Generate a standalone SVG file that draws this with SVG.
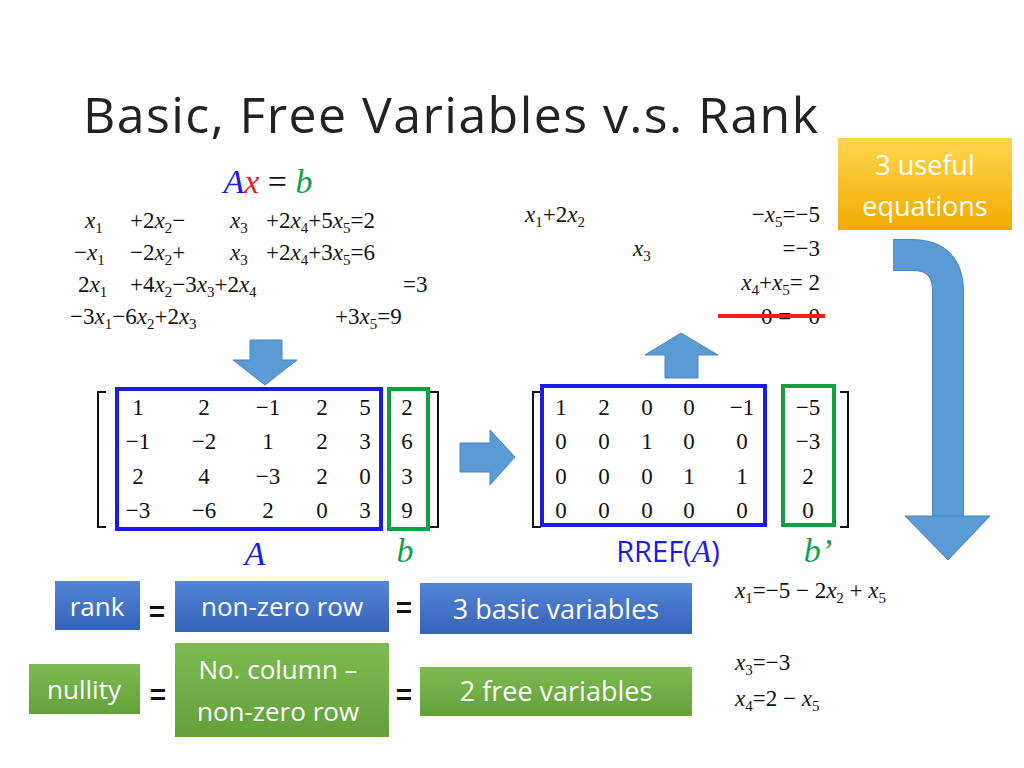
<svg xmlns="http://www.w3.org/2000/svg" width="1024" height="768" viewBox="0 0 1024 768">
<defs>
<style>
.m{font-family:"Liberation Serif",serif;font-size:23px;fill:#111}
.v{font-style:italic}
.s{font-size:15px}
.mx{font-family:"Liberation Serif",serif;font-size:23px;fill:#111;text-anchor:middle}
.lbl{font-family:"Open Sans","Liberation Sans",sans-serif;fill:#fff;text-anchor:middle}
.eq{font-family:"Liberation Sans",sans-serif;font-size:28px;font-weight:bold;fill:#111;text-anchor:middle}
.arrow{fill:#5b9bd5;stroke:#4a86bf;stroke-width:1}
</style>
<linearGradient id="gold" x1="0" y1="0" x2="0" y2="1"><stop offset="0" stop-color="#ffd64f"/><stop offset="1" stop-color="#f2aa00"/></linearGradient>
<linearGradient id="blue" x1="0" y1="0" x2="0" y2="1"><stop offset="0" stop-color="#5585d6"/><stop offset="1" stop-color="#3463b8"/></linearGradient>
<linearGradient id="green" x1="0" y1="0" x2="0" y2="1"><stop offset="0" stop-color="#7dbb52"/><stop offset="1" stop-color="#62a03a"/></linearGradient>
</defs>
<rect width="1024" height="768" fill="#fff"/>
<text x="83" y="133" font-family="Open Sans,Liberation Sans,sans-serif" font-size="50" fill="#222" textLength="735">Basic, Free Variables v.s. Rank</text>

<g id="ax-eq" font-family="Liberation Serif,serif" font-size="34" font-style="italic" text-anchor="middle">
<text x="268" y="193"><tspan fill="#1a1aee">A</tspan><tspan fill="#ee1c1c">x</tspan><tspan fill="#111" font-style="normal"> = </tspan><tspan fill="#10a050">b</tspan></text>
</g>

<g id="system" class="m">
<text x="85" y="228"><tspan class="v">x</tspan><tspan class="s" dy="5">1</tspan></text>
<text x="130" y="228">+2<tspan class="v">x</tspan><tspan class="s" dy="5">2</tspan><tspan dy="-5">−</tspan></text>
<text x="230" y="228"><tspan class="v">x</tspan><tspan class="s" dy="5">3</tspan></text>
<text x="266" y="228">+2<tspan class="v">x</tspan><tspan class="s" dy="5">4</tspan><tspan dy="-5">+5</tspan><tspan class="v">x</tspan><tspan class="s" dy="5">5</tspan><tspan dy="-5">=2</tspan></text>

<text x="74" y="260">−<tspan class="v">x</tspan><tspan class="s" dy="5">1</tspan></text>
<text x="130" y="260">−2<tspan class="v">x</tspan><tspan class="s" dy="5">2</tspan><tspan dy="-5">+</tspan></text>
<text x="230" y="260"><tspan class="v">x</tspan><tspan class="s" dy="5">3</tspan></text>
<text x="266" y="260">+2<tspan class="v">x</tspan><tspan class="s" dy="5">4</tspan><tspan dy="-5">+3</tspan><tspan class="v">x</tspan><tspan class="s" dy="5">5</tspan><tspan dy="-5">=6</tspan></text>

<text x="78" y="292">2<tspan class="v">x</tspan><tspan class="s" dy="5">1</tspan></text>
<text x="130" y="292">+4<tspan class="v">x</tspan><tspan class="s" dy="5">2</tspan><tspan dy="-5">−3</tspan><tspan class="v">x</tspan><tspan class="s" dy="5">3</tspan><tspan dy="-5">+2</tspan><tspan class="v">x</tspan><tspan class="s" dy="5">4</tspan></text>
<text x="403" y="292">=3</text>

<text x="70" y="324">−3<tspan class="v">x</tspan><tspan class="s" dy="5">1</tspan><tspan dy="-5">−6</tspan><tspan class="v">x</tspan><tspan class="s" dy="5">2</tspan><tspan dy="-5">+2</tspan><tspan class="v">x</tspan><tspan class="s" dy="5">3</tspan></text>
<text x="335" y="324">+3<tspan class="v">x</tspan><tspan class="s" dy="5">5</tspan><tspan dy="-5">=9</tspan></text>
</g>

<g id="reduced-system" class="m">
<text x="525" y="222"><tspan class="v">x</tspan><tspan class="s" dy="5">1</tspan><tspan dy="-5">+2</tspan><tspan class="v">x</tspan><tspan class="s" dy="5">2</tspan></text>
<text x="820" y="222" text-anchor="end">−<tspan class="v">x</tspan><tspan class="s" dy="5">5</tspan><tspan dy="-5">=−5</tspan></text>
<text x="633" y="256"><tspan class="v">x</tspan><tspan class="s" dy="5">3</tspan></text>
<text x="820" y="256" text-anchor="end">=−3</text>
<text x="820" y="290" text-anchor="end"><tspan class="v">x</tspan><tspan class="s" dy="5">4</tspan><tspan dy="-5">+</tspan><tspan class="v">x</tspan><tspan class="s" dy="5">5</tspan><tspan dy="-5">=  2</tspan></text>
<text x="820" y="324" text-anchor="end" xml:space="preserve">0 =   0</text>
<line x1="718" y1="316" x2="825" y2="316" stroke="#ff1a1a" stroke-width="4"/>
</g>

<g id="solution" class="m">
<text x="735" y="598"><tspan class="v">x</tspan><tspan class="s" dy="5">1</tspan><tspan dy="-5">=−5 − 2</tspan><tspan class="v">x</tspan><tspan class="s" dy="5">2</tspan><tspan dy="-5"> + </tspan><tspan class="v">x</tspan><tspan class="s" dy="5">5</tspan></text>
<text x="735" y="670"><tspan class="v">x</tspan><tspan class="s" dy="5">3</tspan><tspan dy="-5">=−3</tspan></text>
<text x="735" y="706"><tspan class="v">x</tspan><tspan class="s" dy="5">4</tspan><tspan dy="-5">=2 − </tspan><tspan class="v">x</tspan><tspan class="s" dy="5">5</tspan></text>
</g>

<g id="matrix-A" class="mx">
<path d="M106 392 H98 V527 H106 M430 392 H438 V527 H430" fill="none" stroke="#111" stroke-width="2"/>
<g>
<text x="138" y="415">1</text><text x="204" y="415">2</text><text x="268" y="415">−1</text><text x="322" y="415">2</text><text x="365" y="415">5</text><text x="407" y="415">2</text>
<text x="138" y="449">−1</text><text x="204" y="449">−2</text><text x="268" y="449">1</text><text x="322" y="449">2</text><text x="365" y="449">3</text><text x="407" y="449">6</text>
<text x="138" y="484">2</text><text x="204" y="484">4</text><text x="268" y="484">−3</text><text x="322" y="484">2</text><text x="365" y="484">0</text><text x="407" y="484">3</text>
<text x="138" y="518">−3</text><text x="204" y="518">−6</text><text x="268" y="518">2</text><text x="322" y="518">0</text><text x="365" y="518">3</text><text x="407" y="518">9</text>
</g>
<rect x="117" y="389" width="264" height="140" fill="none" stroke="#1a1aee" stroke-width="4"/>
<rect x="389" y="389" width="39" height="140" fill="none" stroke="#10a040" stroke-width="4"/>
<text x="255" y="565" font-size="34" font-style="italic" fill="#1a1aee">A</text>
<text x="405" y="562" font-size="34" font-style="italic" fill="#10a050">b</text>
</g>

<g id="matrix-R" class="mx">
<path d="M541 392 H533 V527 H541 M840 392 H848 V527 H840" fill="none" stroke="#111" stroke-width="2"/>
<text x="561" y="415">1</text><text x="604" y="415">2</text><text x="647" y="415">0</text><text x="689" y="415">0</text><text x="742" y="415">−1</text><text x="808" y="415">−5</text>
<text x="561" y="449">0</text><text x="604" y="449">0</text><text x="647" y="449">1</text><text x="689" y="449">0</text><text x="742" y="449">0</text><text x="808" y="449">−3</text>
<text x="561" y="484">0</text><text x="604" y="484">0</text><text x="647" y="484">0</text><text x="689" y="484">1</text><text x="742" y="484">1</text><text x="808" y="484">2</text>
<text x="561" y="518">0</text><text x="604" y="518">0</text><text x="647" y="518">0</text><text x="689" y="518">0</text><text x="742" y="518">0</text><text x="808" y="518">0</text>
<rect x="542" y="386" width="223" height="139" fill="none" stroke="#1a1aee" stroke-width="4"/>
<rect x="783" y="386" width="51" height="139" fill="none" stroke="#10a040" stroke-width="4"/>
<text x="668" y="562" font-family="Open Sans,Liberation Sans,sans-serif" font-size="29" fill="#1a1aee">RREF(<tspan font-family="Liberation Serif,serif" font-style="italic" font-size="32">A</tspan>)</text>
<text x="818" y="562" font-size="34" font-style="italic" fill="#10a050">b’</text>
</g>

<g id="connectors">
<polygon class="arrow" points="250,340 282,340 282,360 297,360 265,385 233,360 250,360"/>
<polygon class="arrow" points="460,443 490,443 490,430 515,457 490,485 490,472 460,472"/>
<polygon class="arrow" points="665,378 698,378 698,355 718,355 681,333 645,355 665,355"/>
<path d="M893 255 H912 Q948 255 948 292 V517" fill="none" stroke="#4a86bf" stroke-width="32"/>
<path d="M893 255 H912 Q948 255 948 292 V518" fill="none" stroke="#5b9bd5" stroke-width="30"/>
<polygon class="arrow" points="905,516 990,516 948,560"/>
</g>

<g id="useful">
<rect x="838" y="138" width="174" height="92" fill="url(#gold)"/>
<text class="lbl" x="925" y="175" font-size="27">3 useful</text>
<text class="lbl" x="925" y="216" font-size="27">equations</text>
</g>

<g id="rank"><rect x="55" y="581" width="85" height="49" fill="url(#blue)"/><text class="lbl" x="97" y="616" font-size="26">rank</text></g>
<text class="eq" x="157" y="621">=</text>
<g id="nonzero"><rect x="175" y="581" width="214" height="51" fill="url(#blue)"/><text class="lbl" x="282" y="616" font-size="26">non-zero row</text></g>
<text class="eq" x="404" y="617">=</text>
<g id="basic"><rect x="420" y="583" width="272" height="51" fill="url(#blue)"/><text class="lbl" x="556" y="619" font-size="27">3 basic variables</text></g>

<g id="nullity"><rect x="29" y="664" width="111" height="50" fill="url(#green)"/><text class="lbl" x="84" y="699" font-size="26">nullity</text></g>
<text class="eq" x="158" y="704">=</text>
<g id="colminus"><rect x="175" y="643" width="214" height="94" fill="url(#green)"/><text class="lbl" x="278" y="679" font-size="26">No. column –</text><text class="lbl" x="278" y="721" font-size="26">non-zero row</text></g>
<text class="eq" x="404" y="704">=</text>
<g id="free"><rect x="420" y="667" width="272" height="49" fill="url(#green)"/><text class="lbl" x="556" y="701" font-size="27">2 free variables</text></g>
</svg>
